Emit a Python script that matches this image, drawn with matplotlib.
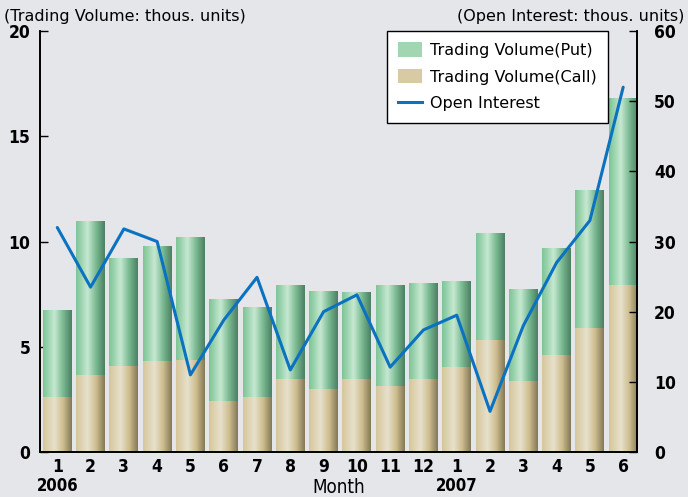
import numpy as np
import matplotlib
matplotlib.use('Agg')
import matplotlib.pyplot as plt
from matplotlib.colors import LinearSegmentedColormap
from matplotlib.patches import Patch
from matplotlib.lines import Line2D

# --------------------------------------------------------------------------------------------
# DATA
months = ['1', '2', '3', '4', '5', '6', '7', '8', '9', '10', '11', '12',
          '1', '2', '3', '4', '5', '6']
years = {0: '2006', 12: '2007'}
callVol = [2.6, 3.66, 4.08, 4.32, 4.37, 2.42, 2.6, 3.47, 2.99, 3.47, 3.14, 3.47,
           4.04, 5.32, 3.37, 4.6, 5.9, 7.93]
totalVol = [6.7, 10.97, 9.2, 9.74, 10.2, 7.22, 6.84, 7.93, 7.6, 7.6, 7.9, 8.03,
            8.08, 10.4, 7.74, 9.64, 12.45, 16.77]
putVol = [t - c for t, c in zip(totalVol, callVol)]
openInterest = [32.0, 23.5, 31.8, 30.0, 11.0, 18.8, 24.9, 11.7, 20.0, 22.4, 12.1, 17.4,
                19.5, 5.8, 18.0, 27.0, 33.0, 52.0]

# --------------------------------------------------------------------------------------------
# STYLE
bg = '#e4e6ea'
greenMap = LinearSegmentedColormap.from_list('g', [(0, '#7cc596'), (0.4, '#c6e8d1'),
                                                   (0.7, '#79b990'), (1, '#4c8064')])
beigeMap = LinearSegmentedColormap.from_list('b', [(0, '#d6c69a'), (0.4, '#e7e1cd'),
                                                   (0.7, '#cdbd8e'), (1, '#857a58')])
lineColor = '#0a72c0'
numFont = 'DejaVu Sans'
plt.rcParams['font.family'] = ['DejaVu Sans']

fig = plt.figure(figsize=(6.88, 4.97), dpi=100, facecolor=bg)
ax = fig.add_axes([0.0581, 0.0905, 0.868, 0.847])
ax.set_facecolor(bg)
ax2 = ax.twinx()

x = np.arange(len(months))
width = 0.87
grad = np.linspace(0, 1, 64).reshape(1, -1)


def gradBar(xc, y0, y1, cmap):
    """Draws one bar with a horizontal cylinder shading."""
    ax.imshow(grad, cmap=cmap, extent=(xc - width / 2, xc + width / 2, y0, y1),
              aspect='auto', interpolation='bilinear', zorder=2)


for i in range(len(x)):
    gradBar(x[i], 0, callVol[i], beigeMap)
    gradBar(x[i], callVol[i], callVol[i] + putVol[i], greenMap)

ax2.plot(x, openInterest, color=lineColor, lw=2.2, solid_joinstyle='round',
         solid_capstyle='round', zorder=3)

ax.set_xlim(-0.52, 17.42)
ax.set_ylim(0, 20)
ax2.set_ylim(0, 60)

for a in (ax, ax2):
    a.spines['top'].set_visible(False)
    for s in a.spines.values():
        s.set_linewidth(1.2)
ax.set_yticks([0, 5, 10, 15, 20])
ax2.set_yticks([0, 10, 20, 30, 40, 50, 60])
ax.tick_params(axis='y', direction='in', length=6, width=1, pad=7)
ax2.tick_params(axis='y', direction='in', length=6, width=1, pad=12)
ax.tick_params(axis='x', length=0, pad=4)
ax.set_xticks(x)
ax.set_xticklabels(months)
for lab in ax.get_xticklabels() + ax.get_yticklabels() + ax2.get_yticklabels():
    lab.set_family(numFont)
    lab.set_fontstretch('condensed')
    lab.set_fontweight('bold')
    lab.set_fontsize(12.5)
for lab in ax2.get_yticklabels():
    lab.set_horizontalalignment('left')

for i, yr in years.items():
    ax.text(x[i], -0.08, yr, transform=ax.get_xaxis_transform(), ha='center', va='center',
            family=numFont, fontstretch='condensed', fontweight='bold', fontsize=12)
ax.text(0.5, -0.085, 'Month', transform=ax.transAxes, ha='center', va='center',
        family=numFont, fontstretch='condensed', fontsize=13.5)

fig.text(0.006, 0.966, '(Trading Volume: thous. units)', ha='left', va='center', fontsize=11.5)
fig.text(0.995, 0.966, '(Open Interest: thous. units)', ha='right', va='center', fontsize=11.5)

handles = [Patch(facecolor='#a2d6b2', edgecolor='none'),
           Patch(facecolor='#d8cba3', edgecolor='none'),
           Line2D([0], [0], color=lineColor, lw=2.2)]
labels = ['Trading Volume(Put)', 'Trading Volume(Call)', 'Open Interest']
leg = ax2.legend(handles, labels, loc='upper left', bbox_to_anchor=(0.581, 1.0),
                 borderaxespad=0, fontsize=11.5, frameon=True, fancybox=False, framealpha=1,
                 edgecolor='black', facecolor='white', borderpad=0.7,
                 handlelength=1.5, handleheight=1.0, handletextpad=0.5, labelspacing=0.7)
leg.get_frame().set_linewidth(1.0)
leg.set_zorder(10)

fig.savefig('out.png', dpi=100, facecolor=bg)
